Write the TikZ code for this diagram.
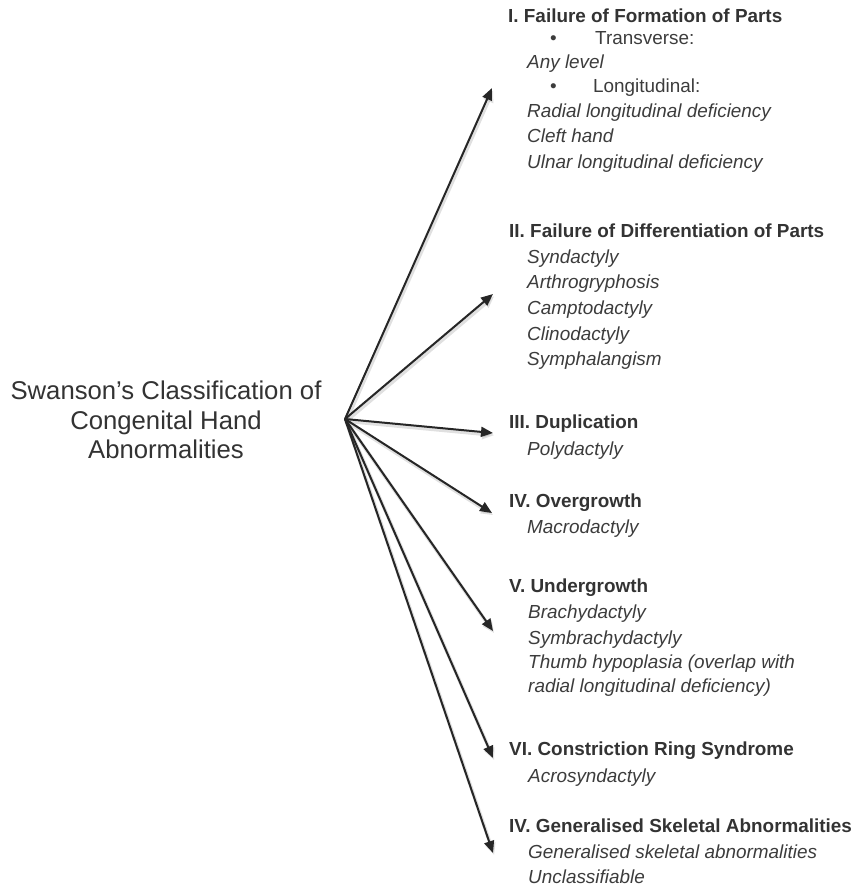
\documentclass[tikz,border=0pt]{standalone}
\usepackage{fontspec}
\setmainfont{Liberation Sans}
\usetikzlibrary{arrows.meta}
\definecolor{txt}{HTML}{333333}
\definecolor{itm}{HTML}{3C3C3C}
\definecolor{arr}{HTML}{262626}
\begin{document}
\begin{tikzpicture}[x=1pt,y=-1pt,
  titlebox/.style={align=center,text=txt,font=\fontsize{25.7}{29.5}\selectfont,inner sep=0pt},
  head/.style={anchor=base west,inner sep=0pt,text=txt,font=\fontsize{18.9}{22}\selectfont\bfseries},
  itemtext/.style={anchor=base west,inner sep=0pt,text=itm,font=\fontsize{18.9}{22}\selectfont\itshape},
  plain/.style={anchor=base west,inner sep=0pt,text=itm,font=\fontsize{18.9}{22}\selectfont},
  conn/.style={draw=arr,line width=2pt,-{Triangle[length=12pt,width=10pt]}},
  shade/.style={draw=black,opacity=0.12,line width=3.5pt,-{Triangle[length=12pt,width=10pt]}}]
\useasboundingbox (0,0) rectangle (856,891);
\node[titlebox] (title) at (166,420) {Swanson’s Classification of\\Congenital Hand\\Abnormalities};
\coordinate (src) at (345,419);
% tips
\coordinate (t1) at (492,88);
\coordinate (t2) at (493,294);
\coordinate (t3) at (493,433);
\coordinate (t4) at (492,513);
\coordinate (t5) at (493,631);
\coordinate (t6) at (493,758);
\coordinate (t7) at (493,853);
\foreach \t in {t1,t2,t3,t4,t5,t6,t7}{
  \draw[shade] ([shift={(1.2,2.2)}]src) -- ([shift={(1.2,2.2)}]\t);
}
\foreach \t in {t1,t2,t3,t4,t5,t6,t7}{
  \draw[conn] (src) -- (\t);
}
% I
\node[head] (h1) at (508,22.5) {I. Failure of Formation of Parts};
\node[plain] (b1) at (550,44.5) {•};
\node[plain] (p1) at (595,44.5) {Transverse:};
\node[itemtext] (a1) at (527,68.5) {Any level};
\node[plain] (b2) at (550,92.5) {•};
\node[plain] (p2) at (593,92.5) {Longitudinal:};
\node[itemtext] (a2) at (527,117.5) {Radial longitudinal deficiency};
\node[itemtext] (a3) at (527,142.5) {Cleft hand};
\node[itemtext] (a4) at (527,168.5) {Ulnar longitudinal deficiency};
% II
\node[head] (h2) at (509,237.5) {II. Failure of Differentiation of Parts};
\node[itemtext] (c1) at (527,263.5) {Syndactyly};
\node[itemtext] (c2) at (527,288.5) {Arthrogryphosis};
\node[itemtext] (c3) at (527,314.5) {Camptodactyly};
\node[itemtext] (c4) at (527,340.5) {Clinodactyly};
\node[itemtext] (c5) at (527,365.5) {Symphalangism};
% III
\node[head] (h3) at (509,428.5) {III. Duplication};
\node[itemtext] (d1) at (527,455.5) {Polydactyly};
% IV
\node[head] (h4) at (509,507.5) {IV. Overgrowth};
\node[itemtext] (e1) at (527,533.5) {Macrodactyly};
% V
\node[head] (h5) at (509,592.5) {V. Undergrowth};
\node[itemtext] (f1) at (528,618.5) {Brachydactyly};
\node[itemtext] (f2) at (528,644.5) {Symbrachydactyly};
\node[itemtext] (f3) at (528,668.5) {Thumb hypoplasia (overlap with};
\node[itemtext] (f4) at (528,692.5) {radial longitudinal deficiency)};
% VI
\node[head] (h6) at (509,755.5) {VI. Constriction Ring Syndrome};
\node[itemtext] (g1) at (528,782.5) {Acrosyndactyly};
% VII
\node[head] (h7) at (509,832.5) {IV. Generalised Skeletal Abnormalities};
\node[itemtext] (k1) at (528,858.5) {Generalised skeletal abnormalities};
\node[itemtext] (k2) at (528,883.5) {Unclassifiable};
\end{tikzpicture}
\end{document}
